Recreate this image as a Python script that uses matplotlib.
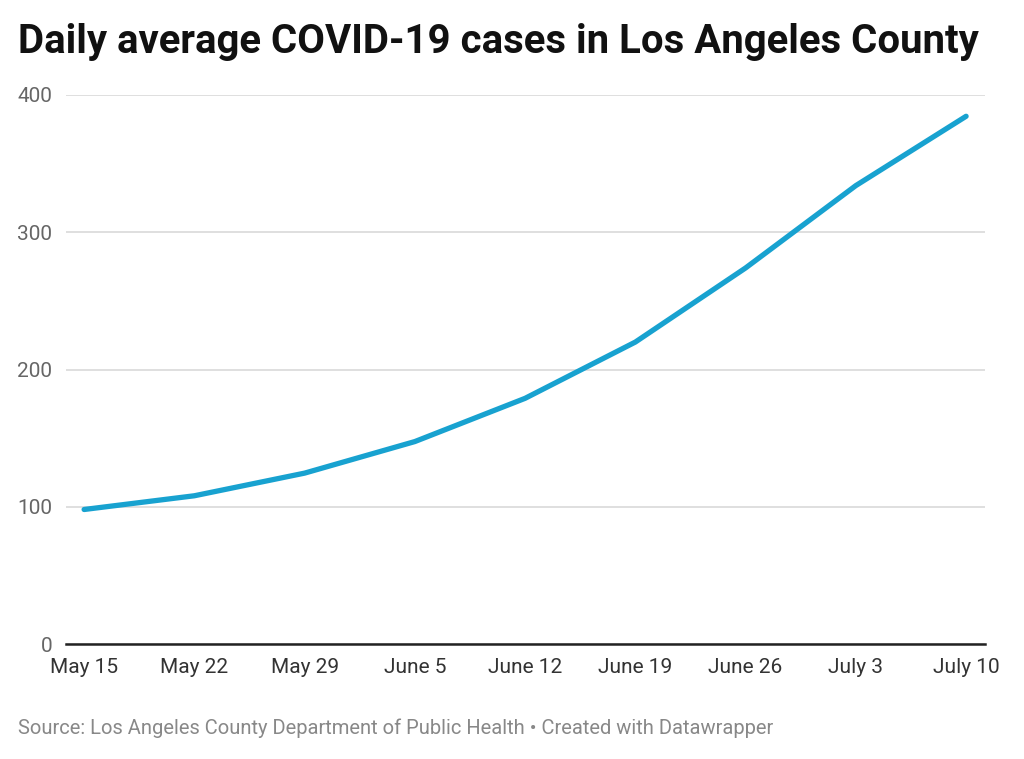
import numpy as np
import matplotlib
matplotlib.use("Agg")
import matplotlib.pyplot as plt

plt.rcParams['font.family'] = ['Roboto', 'DejaVu Sans']

# weekly 7-day average of new cases
dates = ["May 15", "May 22", "May 29", "June 5", "June 12",
         "June 19", "June 26", "July 3", "July 10"]
days = [0, 7, 14, 21, 28, 35, 42, 49, 56]
cases = [98, 108, 124.5, 147.5, 179, 220, 274, 334, 384.5]
yticks = [0, 100, 200, 300, 400]

fig = plt.figure(figsize=(10.24, 7.59), dpi=100)
ax = fig.add_axes([66 / 1024, 115 / 759, 919 / 1024, 549 / 759])

ax.plot(days, cases, color='#18a2d0', linewidth=3.8,
        solid_capstyle='round', solid_joinstyle='round', zorder=3)

ax.set_xlim(-1.15, 57.2)
ax.set_ylim(0, 400)
ax.set_yticks(yticks)
ax.set_yticklabels([str(v) for v in yticks])
ax.set_xticks(days)
ax.set_xticklabels(dates)
ax.grid(axis='y', color='#d9d9d9', linewidth=1.2)
ax.set_axisbelow(True)

for s in ['top', 'right', 'left']:
    ax.spines[s].set_visible(False)
ax.spines['bottom'].set_color('#222222')
ax.spines['bottom'].set_linewidth(1.8)
ax.spines['bottom'].set_zorder(4)

ax.tick_params(axis='y', length=0, pad=10, labelsize=15, labelcolor='#666666')
ax.tick_params(axis='x', length=0, pad=10, labelsize=15, labelcolor='#333333')

fig.text(18 / 1024, 1 - 42 / 759, "Daily average COVID-19 cases in Los Angeles County",
         fontsize=28.9, fontweight='bold', color='#111111', va='center', ha='left')
fig.text(18 / 1024, 1 - 728 / 759,
         "Source: Los Angeles County Department of Public Health \u2022 Created with Datawrapper",
         fontsize=14.5, color='#888888', va='center', ha='left')

fig.savefig("out.png", dpi=100)
